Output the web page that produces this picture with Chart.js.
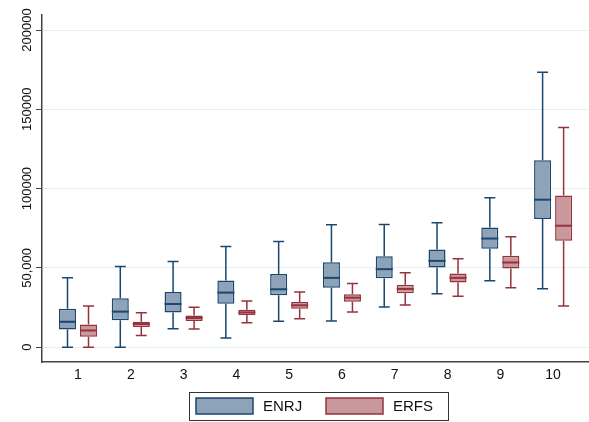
<!DOCTYPE html>
<html>
<head>
<meta charset="utf-8">
<script src="https://cdn.jsdelivr.net/npm/chart.js@4"></script>
<style>
  body { margin: 0; background: #fff; }
  canvas { display: block; }
</style>
</head>
<body>
<canvas id="myChart" width="589" height="422"></canvas>
<script>
// decile groups on the x axis
var categories = [1, 2, 3, 4, 5, 6, 7, 8, 9, 10];
var seriesNames = ["ENRJ", "ERFS"];

// ENRJ box plot values
var enrjMin = [0, 0, 11600, 5700, 16300, 16500, 25300, 33700, 41800, 36900];
var enrjQ1  = [11200, 16900, 21900, 27400, 32700, 37500, 43500, 50200, 62000, 80800];
var enrjMed = [16000, 22400, 27200, 34400, 36500, 43700, 49200, 54400, 68500, 93000];
var enrjQ3  = [24200, 30800, 34800, 42000, 46200, 53600, 57400, 61600, 75500, 117900];
var enrjMax = [43700, 50800, 54000, 63500, 66700, 77200, 77400, 78500, 94300, 173400];

// ERFS box plot values
var erfsMin = [0, 7400, 11400, 15400, 17900, 22200, 26600, 32100, 37500, 25900];
var erfsQ1  = [6500, 12700, 16500, 20300, 24200, 28700, 34000, 40700, 49600, 67100];
var erfsMed = [10500, 14600, 18400, 21900, 26400, 31200, 36700, 43700, 53400, 76600];
var erfsQ3  = [14300, 16000, 20000, 23600, 28500, 33400, 39400, 46400, 57600, 95600];
var erfsMax = [25900, 21700, 25100, 29100, 34800, 40100, 47000, 55700, 69600, 138600];

// y axis ticks and their labels as printed
var yTicks = [0, 50000, 100000, 150000, 200000];
var yTickLabels = ["0", "50,000", "100000", "150000", "200000"];

var navy = "rgb(26,71,111)";
var navyFill = "rgb(142,163,184)";
var maroon = "rgb(150,50,60)";
var maroonFill = "rgb(201,152,156)";

var stats = [
    {min: enrjMin, q1: enrjQ1, med: enrjMed, q3: enrjQ3, max: enrjMax, color: navy, fill: navyFill},
    {min: erfsMin, q1: erfsQ1, med: erfsMed, q3: erfsQ3, max: erfsMax, color: maroon, fill: maroonFill}
];

function boxData(q1, q3){
    return categories.map(function(c, i){ return {x: c, y: [q1[i], q3[i]]}; });
}

// whiskers, caps and medians on top of the floating bars
var whiskerPlugin = {
    id: "whiskers",
    afterDatasetsDraw: function(chart){
        var ctx = chart.ctx;
        var y = chart.scales.y;
        stats.forEach(function(s, i){
            var meta = chart.getDatasetMeta(i);
            ctx.save();
            ctx.strokeStyle = s.color;
            meta.data.forEach(function(bar, j){
                var cx = bar.x;
                var half = bar.width / 2;
                var cap = 5.5;
                ctx.lineWidth = 1.5;
                ctx.beginPath();
                ctx.moveTo(cx, y.getPixelForValue(s.q3[j]));
                ctx.lineTo(cx, y.getPixelForValue(s.max[j]));
                ctx.moveTo(cx, y.getPixelForValue(s.q1[j]));
                ctx.lineTo(cx, y.getPixelForValue(s.min[j]));
                ctx.moveTo(cx - cap, y.getPixelForValue(s.max[j]));
                ctx.lineTo(cx + cap, y.getPixelForValue(s.max[j]));
                ctx.moveTo(cx - cap, y.getPixelForValue(s.min[j]));
                ctx.lineTo(cx + cap, y.getPixelForValue(s.min[j]));
                ctx.stroke();
                ctx.lineWidth = 2;
                ctx.beginPath();
                ctx.moveTo(cx - half, y.getPixelForValue(s.med[j]));
                ctx.lineTo(cx + half, y.getPixelForValue(s.med[j]));
                ctx.stroke();
            });
            ctx.restore();
        });
    },
    afterDraw: function(chart){
        var ctx = chart.ctx;
        var y = chart.scales.y;
        var area = chart.chartArea;
        // rotated y tick labels
        ctx.save();
        ctx.fillStyle = "#111";
        ctx.font = "13px 'Liberation Sans', Arial, sans-serif";
        ctx.textAlign = "center";
        ctx.textBaseline = "middle";
        yTicks.forEach(function(v, i){
            ctx.save();
            ctx.translate(area.left - 15, y.getPixelForValue(v));
            ctx.rotate(-Math.PI / 2);
            ctx.fillText(yTickLabels[i], 0, 0);
            ctx.restore();
        });
        ctx.restore();

        // boxed legend under the axis
        var cx = (area.left + area.right) / 2 + 3;
        var left = cx - 129.5;
        var top = chart.height - 30;
        ctx.save();
        ctx.fillStyle = "#fff";
        ctx.fillRect(left, top, 259, 28);
        ctx.strokeStyle = "#333";
        ctx.lineWidth = 1;
        ctx.strokeRect(left + 0.5, top + 0.5, 259, 28);
        ctx.font = "15px 'Liberation Sans', Arial, sans-serif";
        ctx.textBaseline = "middle";
        var offsets = [7, 137];
        stats.forEach(function(s, i){
            var sx = left + offsets[i];
            ctx.fillStyle = s.fill;
            ctx.fillRect(sx, top + 6, 57, 16);
            ctx.strokeStyle = s.color;
            ctx.lineWidth = 1.5;
            ctx.strokeRect(sx, top + 6, 57, 16);
            ctx.fillStyle = "#111";
            ctx.fillText(seriesNames[i], sx + 67, top + 14.5);
        });
        ctx.restore();
    }
};

var ctx = document.getElementById("myChart");
var myChart = new Chart(ctx, {
    type: "bar",
    data: {
        datasets: stats.map(function(s, i){
            return {
                label: seriesNames[i],
                data: boxData(s.q1, s.q3),
                backgroundColor: s.fill,
                borderColor: s.color,
                borderWidth: 1.5,
                borderSkipped: false,
                categoryPercentage: 0.796,
                barPercentage: 0.81
            };
        })
    },
    options: {
        responsive: false,
        animation: false,
        layout: {padding: {left: 36, right: 0, top: 15, bottom: 33}},
        plugins: {legend: {display: false}, tooltip: {enabled: false}},
        scales: {
            x: {
                type: "linear",
                offset: false,
                min: 0.318,
                max: 10.68,
                afterBuildTicks: function(scale){
                    scale.ticks = categories.map(function(c){ return {value: c}; });
                },
                grid: {display: false, drawTicks: false, offset: false},
                border: {display: true, color: "#444", width: 1.5},
                ticks: {
                    padding: 5,
                    color: "#111",
                    font: {family: "'Liberation Sans', Arial, sans-serif", size: 14},
                    maxRotation: 0,
                    autoSkip: false
                }
            },
            y: {
                min: -9500,
                max: 209500,
                afterBuildTicks: function(scale){
                    scale.ticks = yTicks.map(function(v){ return {value: v}; });
                },
                grid: {color: "#e6eff1", lineWidth: 1, drawTicks: true, tickLength: 6, tickColor: "#444"},
                border: {display: true, color: "#444", width: 1.5},
                ticks: {display: false}
            }
        }
    },
    plugins: [whiskerPlugin]
});
</script>
</body>
</html>
